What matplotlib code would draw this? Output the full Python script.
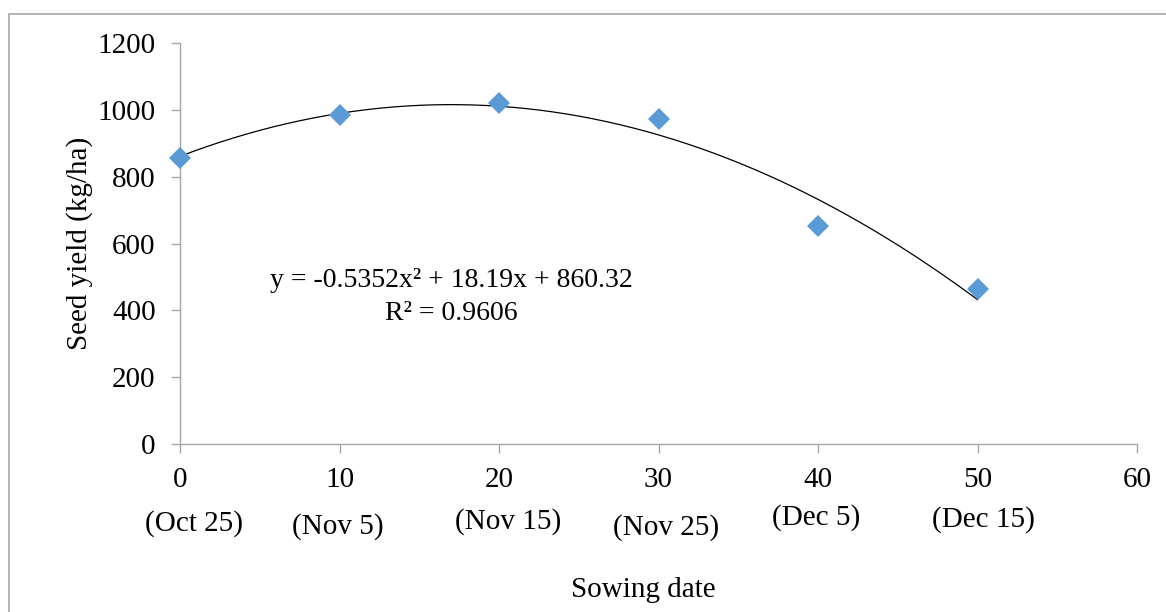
import numpy as np
import matplotlib
matplotlib.use("Agg")
import matplotlib.pyplot as plt
import matplotlib.transforms as mtransforms
from matplotlib.patches import Rectangle

plt.rcParams['font.family'] = ['Liberation Serif', 'DejaVu Serif']

# 数据
days = [0, 10, 20, 30, 40, 50]
seed_yield = [856, 985, 1020, 972, 652, 465]
date_labels = ["(Oct 25)", "(Nov 5)", "(Nov 15)", "(Nov 25)", "(Dec 5)", "(Dec 15)"]
x_ticks = [0, 10, 20, 30, 40, 50, 60]
y_ticks = [0, 200, 400, 600, 800, 1000, 1200]

# 日期标签的位置（x 为数据坐标，y 为像素）
date_x = [0.9, 9.9, 20.6, 30.5, 39.9, 50.4]
date_y_px = [524, 527, 522, 528, 518, 520]

W, H = 1166, 612
fig = plt.figure(figsize=(W / 100, H / 100), dpi=100)
ax = fig.add_axes([180 / W, 1 - 444 / H, (1137 - 180) / W, (444 - 43) / H])

grey = '#A6A6A6'
fs = 21

# 二次趋势线
coef = np.polyfit(days, seed_yield, 2)
xs = np.linspace(days[0], days[-1], 300)
ax.plot(xs, np.polyval(coef, xs), color='black', linewidth=0.9, zorder=2)

# 散点
ax.plot(days, seed_yield, linestyle='none', marker='D', markersize=11,
        color='#5B9BD5', markeredgewidth=0, zorder=3, clip_on=False)

ax.set_xlim(0, 60)
ax.set_ylim(0, 1200)
ax.set_xticks(x_ticks)
ax.set_yticks(y_ticks)
ax.tick_params(axis='both', direction='out', length=6.5, width=1, color=grey,
               labelsize=fs)
ax.tick_params(axis='x', pad=10)
ax.tick_params(axis='y', pad=11)
for side in ['top', 'right']:
    ax.spines[side].set_visible(False)
for side in ['left', 'bottom']:
    ax.spines[side].set_color(grey)
    ax.spines[side].set_linewidth(1)

# 日期标签
trans = mtransforms.blended_transform_factory(ax.transData, fig.transFigure)
for x, lab, ypx in zip(date_x, date_labels, date_y_px):
    ax.text(x, 1 - ypx / H, lab, transform=trans, ha='center', va='center',
            fontsize=fs, clip_on=False)

# 方程和 R²
fig.text(451 / W, 1 - 281 / H, "y = -0.5352x\u00b2 + 18.19x + 860.32",
         ha='center', va='center', fontsize=20)
fig.text(451 / W, 1 - 313 / H, "R\u00b2 = 0.9606",
         ha='center', va='center', fontsize=20)

# 轴标题
fig.text(643 / W, 1 - 590 / H, "Sowing date", ha='center', va='center', fontsize=fs)
fig.text(80 / W, 1 - 243 / H, "Seed yield (kg/ha)", ha='center', va='center',
         rotation=90, fontsize=fs)

# 外框
fig.patches.append(Rectangle((8.5 / W, -0.2), 1.2, 1 - 13.5 / H + 0.2,
                             transform=fig.transFigure, fill=False,
                             edgecolor=grey, linewidth=1.2))

plt.savefig("out.png", dpi=100)
